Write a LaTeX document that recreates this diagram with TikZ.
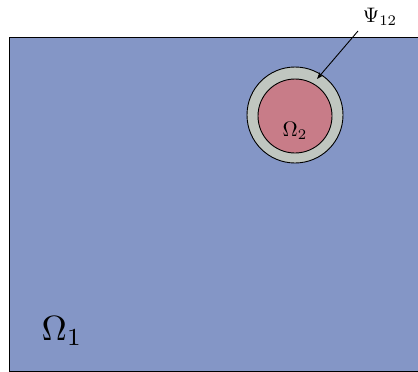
\documentclass[tikz,border=0pt]{standalone}
\usepackage{graphicx}
\usetikzlibrary{arrows.meta}
\definecolor{domblue}{RGB}{132,150,198}
\definecolor{domred}{RGB}{200,124,136}
\definecolor{ringgray}{RGB}{192,198,192}
\begin{document}
\begin{tikzpicture}[x=1pt,y=-1pt]
\useasboundingbox (0,0) rectangle (418,372);
\tikzset{dom/.style={draw=black,line width=0.9pt},
  lbl/.style={inner sep=0pt}}
\begin{scope}
\clip (0,0) rectangle (418,372);
\fill[domblue] (9,37) rectangle (430,371);
\draw[line width=0.9pt] (430,37) -- (9,37) -- (9,371) -- (430,371);
\end{scope}
\node[dom,circle,fill=ringgray,minimum size=96pt,inner sep=0pt] (ring) at (295,115) {};
\node[dom,circle,fill=domred,minimum size=74pt,inner sep=0pt] (inner) at (295,116) {};
\node[lbl] (om2) at (295,131) {\scalebox{2.1}{$\Omega_2$}};
\node[lbl] (om1) at (62,331) {\scalebox{3.5}{$\Omega_1$}};
\node[lbl] (psi) at (380,17) {\scalebox{2.1}{$\Psi_{12}$}};
\coordinate (tail) at (358,31);
\coordinate (tip) at (317,79);
\draw[line width=0.9pt,-{Stealth[length=7pt,width=5pt]}] (tail) -- (tip);
\end{tikzpicture}
\end{document}
